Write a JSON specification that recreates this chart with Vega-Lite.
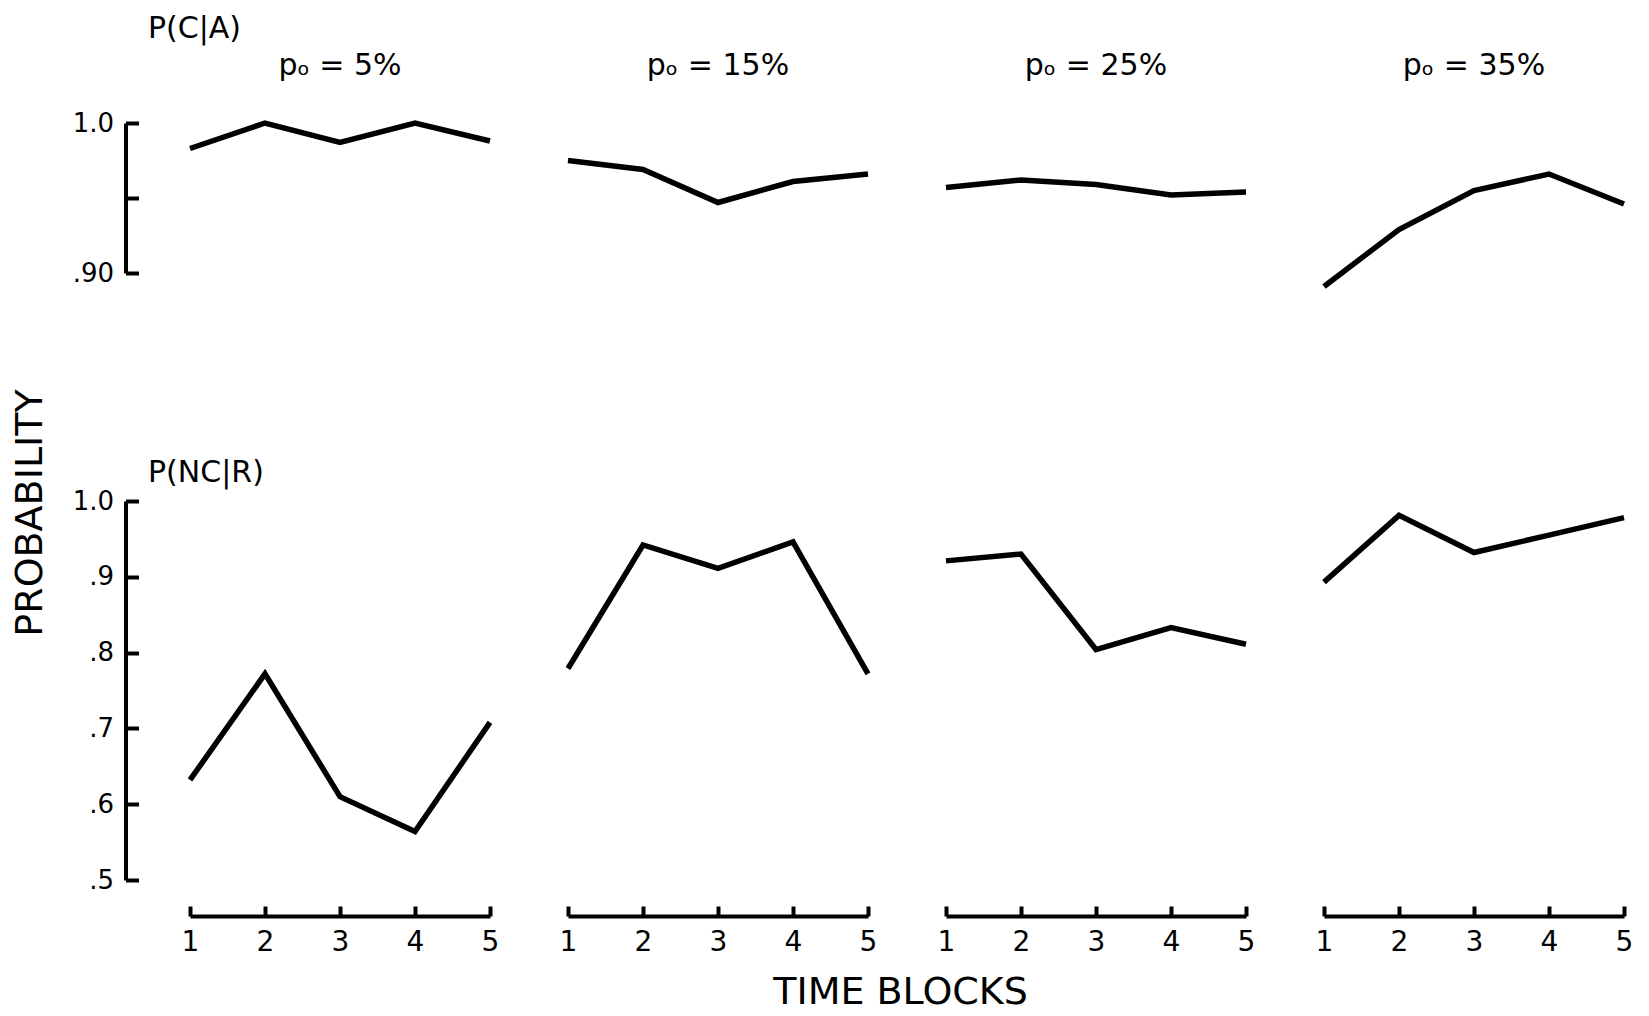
{
  "$schema": "https://vega.github.io/schema/vega-lite/v6.json",
  "padding": {"left": 12, "top": 14, "right": 5, "bottom": 5},
  "background": "white",
  "config": {
    "font": "DejaVu Sans",
    "view": {"stroke": null},
    "axis": {
      "grid": false,
      "domainColor": "black",
      "domainWidth": 4,
      "tickColor": "black",
      "tickWidth": 4,
      "labelColor": "black",
      "labelFont": "DejaVu Sans",
      "labelFontSize": 26,
      "labelOverlap": false,
      "labelFlush": false
    },
    "title": {"color": "black", "fontWeight": "normal", "font": "DejaVu Sans"}
  },
  "datasets": {
    "conditional_a": [
      {"po": "pₒ = 5%", "block": 1, "p": 0.983},
      {"po": "pₒ = 5%", "block": 2, "p": 1.0},
      {"po": "pₒ = 5%", "block": 3, "p": 0.987},
      {"po": "pₒ = 5%", "block": 4, "p": 1.0},
      {"po": "pₒ = 5%", "block": 5, "p": 0.988},
      {"po": "pₒ = 15%", "block": 1, "p": 0.975},
      {"po": "pₒ = 15%", "block": 2, "p": 0.969},
      {"po": "pₒ = 15%", "block": 3, "p": 0.947},
      {"po": "pₒ = 15%", "block": 4, "p": 0.961},
      {"po": "pₒ = 15%", "block": 5, "p": 0.966},
      {"po": "pₒ = 25%", "block": 1, "p": 0.957},
      {"po": "pₒ = 25%", "block": 2, "p": 0.962},
      {"po": "pₒ = 25%", "block": 3, "p": 0.959},
      {"po": "pₒ = 25%", "block": 4, "p": 0.952},
      {"po": "pₒ = 25%", "block": 5, "p": 0.954},
      {"po": "pₒ = 35%", "block": 1, "p": 0.891},
      {"po": "pₒ = 35%", "block": 2, "p": 0.929},
      {"po": "pₒ = 35%", "block": 3, "p": 0.955},
      {"po": "pₒ = 35%", "block": 4, "p": 0.966},
      {"po": "pₒ = 35%", "block": 5, "p": 0.946}
    ],
    "conditional_r": [
      {"po": "pₒ = 5%", "block": 1, "p": 0.632},
      {"po": "pₒ = 5%", "block": 2, "p": 0.772},
      {"po": "pₒ = 5%", "block": 3, "p": 0.61},
      {"po": "pₒ = 5%", "block": 4, "p": 0.564},
      {"po": "pₒ = 5%", "block": 5, "p": 0.708},
      {"po": "pₒ = 15%", "block": 1, "p": 0.779},
      {"po": "pₒ = 15%", "block": 2, "p": 0.942},
      {"po": "pₒ = 15%", "block": 3, "p": 0.911},
      {"po": "pₒ = 15%", "block": 4, "p": 0.946},
      {"po": "pₒ = 15%", "block": 5, "p": 0.772},
      {"po": "pₒ = 25%", "block": 1, "p": 0.921},
      {"po": "pₒ = 25%", "block": 2, "p": 0.93},
      {"po": "pₒ = 25%", "block": 3, "p": 0.804},
      {"po": "pₒ = 25%", "block": 4, "p": 0.833},
      {"po": "pₒ = 25%", "block": 5, "p": 0.811},
      {"po": "pₒ = 35%", "block": 1, "p": 0.893},
      {"po": "pₒ = 35%", "block": 2, "p": 0.981},
      {"po": "pₒ = 35%", "block": 3, "p": 0.932},
      {"po": "pₒ = 35%", "block": 4, "p": 0.955},
      {"po": "pₒ = 35%", "block": 5, "p": 0.978}
    ]
  },
  "title": {"text": "PROBABILITY", "orient": "left", "anchor": "middle", "fontSize": 38, "offset": 22},
  "vconcat": [
    {
      "title": {"text": "TIME BLOCKS", "orient": "bottom", "anchor": "middle", "fontSize": 38, "offset": 18, "dx": 47},
      "spacing": 160,
      "vconcat": [
        {
          "data": {"name": "conditional_a"},
          "title": {"text": "P(C|A)", "anchor": "start", "frame": "group", "dx": -42, "fontSize": 30, "offset": 7},
          "spacing": {"column": 56},
          "facet": {
            "column": {
              "field": "po",
              "type": "nominal",
              "sort": ["pₒ = 5%", "pₒ = 15%", "pₒ = 25%", "pₒ = 35%"],
              "header": {"title": null, "labelFontSize": 30, "labelColor": "black", "labelPadding": 31}
            }
          },
          "spec": {
            "width": 300,
            "height": 150,
            "mark": {"type": "line", "color": "black", "strokeWidth": 5.5, "strokeJoin": "miter"},
            "encoding": {
              "x": {"field": "block", "type": "quantitative", "scale": {"domain": [1, 5], "nice": false, "zero": false}, "axis": null},
              "y": {
                "field": "p",
                "type": "quantitative",
                "scale": {"domain": [0.9, 1.0], "nice": false, "zero": false},
                "axis": {
                  "title": null,
                  "offset": 53.5,
                  "values": [0.9, 0.95, 1.0],
                  "tickSize": -13,
                  "labelPadding": 25,
                  "labelExpr": "datum.value >= 1 ? '1.0' : (datum.value <= 0.9 ? '.90' : '')"
                }
              }
            }
          }
        },
        {
          "data": {"name": "conditional_r"},
          "title": {"text": "P(NC|R)", "anchor": "start", "frame": "group", "dx": -42, "fontSize": 30, "offset": 0},
          "spacing": {"column": 56},
          "facet": {
            "column": {
              "field": "po",
              "type": "nominal",
              "sort": ["pₒ = 5%", "pₒ = 15%", "pₒ = 25%", "pₒ = 35%"],
              "header": {"title": null, "labels": false}
            }
          },
          "spec": {
            "width": 300,
            "height": 379,
            "mark": {"type": "line", "color": "black", "strokeWidth": 5.5, "strokeJoin": "miter"},
            "encoding": {
              "x": {
                "field": "block",
                "type": "quantitative",
                "scale": {"domain": [1, 5], "nice": false, "zero": false},
                "axis": {
                  "title": null,
                  "offset": 36,
                  "values": [1, 2, 3, 4, 5],
                  "format": "d",
                  "tickSize": -10,
                  "labelPadding": 22,
                  "labelFontSize": 28
                }
              },
              "y": {
                "field": "p",
                "type": "quantitative",
                "scale": {"domain": [0.5, 1.0], "nice": false, "zero": false},
                "axis": {
                  "title": null,
                  "offset": 53.5,
                  "values": [0.5, 0.6, 0.7, 0.8, 0.9, 1.0],
                  "tickSize": -13,
                  "labelPadding": 25,
                  "labelExpr": "datum.value >= 1 ? '1.0' : '.' + round(datum.value * 10)"
                }
              }
            }
          }
        }
      ]
    }
  ]
}
